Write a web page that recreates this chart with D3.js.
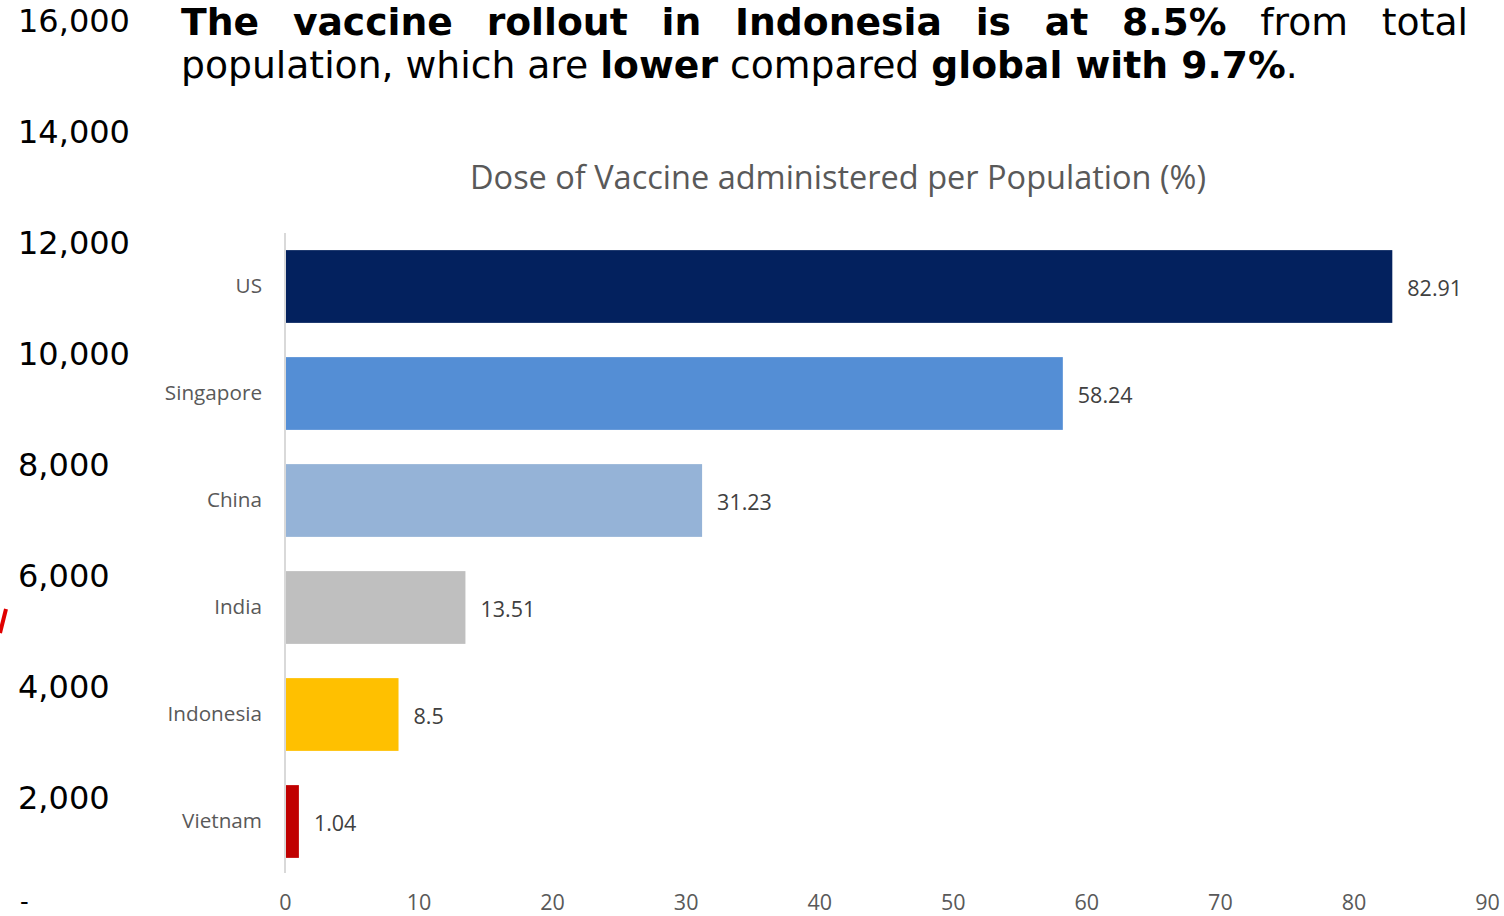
<!DOCTYPE html>
<html>
<head>
<meta charset="utf-8">
<script src="https://cdn.jsdelivr.net/npm/d3@7"></script>
<style>
  html, body { margin: 0; padding: 0; background: #fff; }
  svg { display: block; }
</style>
</head>
<body>
<svg id="chart" width="1504" height="916"></svg>
<script>
// Countries and doses of vaccine administered per 100 people (%)
const countries = ["US", "Singapore", "China", "India", "Indonesia", "Vietnam"];
const dosePct = [82.91, 58.24, 31.23, 13.51, 8.5, 1.04];
const barColors = ["#03215e", "#548ed5", "#95b3d7", "#bfbfbf", "#ffc000", "#c00000"];
const xTicks = [0, 10, 20, 30, 40, 50, 60, 70, 80, 90];

// Left-hand scale carried over from the slide's companion chart
const leftTicks = [0, 2000, 4000, 6000, 8000, 10000, 12000, 14000, 16000];

const headline1 = [
  { t: "The", b: true }, { t: "vaccine", b: true }, { t: "rollout", b: true },
  { t: "in", b: true }, { t: "Indonesia", b: true }, { t: "is", b: true },
  { t: "at", b: true }, { t: "8.5%", b: true }, { t: "from", b: false },
  { t: "total", b: false }
];
const headline2 = [
  { t: "population, which are ", b: false }, { t: "lower", b: true },
  { t: " compared ", b: false }, { t: "global with 9.7%", b: true }, { t: ".", b: false }
];
const chartTitle = "Dose of Vaccine administered per Population (%)";

const svg = d3.select("#chart");

// ---- left scale (text only) ----
const yLeft = d3.scaleLinear().domain([0, 16000]).range([908, 20]);
const leftG = svg.append("g");
leftG.selectAll("text").data(leftTicks).join("text")
  .attr("x", d => d === 0 ? 20 : 18)
  .attr("y", d => d === 0 ? 910 : yLeft(d))
  .attr("dy", d => d === 0 ? 0 : "0.36em")
  .attr("font-family", "DejaVu Sans, Verdana, sans-serif")
  .attr("font-size", d => d === 0 ? 24 : 32)
  .attr("fill", "#000")
  .text(d => d === 0 ? "-" : d3.format(",")(d));

// small red stroke at the left margin
svg.append("line")
  .attr("x1", 6).attr("y1", 609).attr("x2", 0).attr("y2", 633)
  .attr("stroke", "#e00000").attr("stroke-width", 4);

// ---- headline ----
const hFont = "DejaVu Sans, Verdana, sans-serif";
const hSize = 37.7;
const hLeft = 181, hRight = 1468;
const line1 = svg.append("text")
  .attr("y", 35)
  .attr("font-family", hFont)
  .attr("font-size", hSize)
  .attr("fill", "#000");
const spans = line1.selectAll("tspan").data(headline1).join("tspan")
  .attr("font-weight", d => d.b ? "bold" : "normal")
  .text(d => d.t);
// justify the first line across the full text box
const widths = [];
spans.each(function() { widths.push(this.getComputedTextLength()); });
const total = d3.sum(widths);
const gap = (hRight - hLeft - total) / (headline1.length - 1);
let cx = hLeft;
spans.attr("x", (d, i) => { const x = cx; cx += widths[i] + gap; return x; });

svg.append("text")
  .attr("x", hLeft)
  .attr("y", 78)
  .attr("font-family", hFont)
  .attr("font-size", hSize)
  .attr("fill", "#000")
  .style("white-space", "pre")
  .selectAll("tspan").data(headline2).join("tspan")
  .attr("font-weight", d => d.b ? "bold" : "normal")
  .text(d => d.t);

// ---- bar chart ----
const labelFont = "Open Sans, Noto Sans, sans-serif";
const x = d3.scaleLinear().domain([0, 90]).range([285, 1487]);
const y = d3.scaleBand().domain(countries).range([233, 875])
  .paddingInner(0.32).paddingOuter(0.16);

svg.append("text")
  .attr("x", 838)
  .attr("y", 189)
  .attr("text-anchor", "middle")
  .attr("font-family", labelFont)
  .attr("font-size", 32.5)
  .attr("fill", "#595959")
  .text(chartTitle);

const data = countries.map((c, i) => ({ c, v: dosePct[i], col: barColors[i] }));

svg.append("g").selectAll("rect").data(data).join("rect")
  .attr("x", x(0))
  .attr("y", d => y(d.c))
  .attr("width", d => x(d.v) - x(0))
  .attr("height", y.bandwidth())
  .attr("fill", d => d.col);

// value labels
svg.append("g").selectAll("text").data(data).join("text")
  .attr("x", d => x(d.v) + 15)
  .attr("y", d => y(d.c) + y.bandwidth() / 2 + 2)
  .attr("dy", "0.35em")
  .attr("font-family", labelFont)
  .attr("font-size", 21.5)
  .attr("fill", "#404040")
  .text(d => d.v);

// category axis
const yAxis = svg.append("g")
  .attr("transform", `translate(${x(0)},0)`)
  .call(d3.axisLeft(y).tickSize(0).tickPadding(23));
yAxis.select(".domain").attr("stroke", "#d9d9d9").attr("stroke-width", 2)
  .attr("d", "M0,233V873");
yAxis.selectAll("text")
  .attr("font-family", labelFont)
  .attr("font-size", 20.7)
  .attr("fill", "#595959");

// value axis (labels only)
const xAxis = svg.append("g")
  .attr("transform", "translate(0,892)")
  .call(d3.axisBottom(x).tickValues(xTicks).tickSize(0).tickPadding(3));
xAxis.select(".domain").remove();
xAxis.selectAll("text")
  .attr("font-family", labelFont)
  .attr("font-size", 21.5)
  .attr("fill", "#595959");
</script>
</body>
</html>
